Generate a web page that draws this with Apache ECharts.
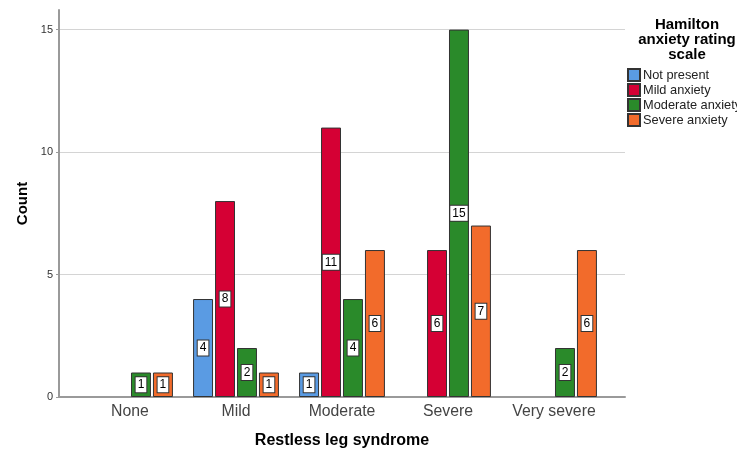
<!DOCTYPE html>
<html><head><meta charset="utf-8">
<script src="https://cdn.jsdelivr.net/npm/echarts@6/dist/echarts.min.js"></script>
<style>html,body{margin:0;padding:0;background:#fff}#c{width:737px;height:451px}</style>
</head><body><div id="c"></div>
<script>
const categories = ['None', 'Mild', 'Moderate', 'Severe', 'Very severe'];
const seriesNames = ['Not present', 'Mild anxiety', 'Moderate anxiety', 'Severe anxiety'];
const notPresent = [0, 4, 1, 0, 0];
const mildAnxiety = [0, 8, 11, 6, 0];
const moderateAnxiety = [1, 2, 4, 15, 2];
const severeAnxiety = [1, 1, 6, 7, 6];
const colors = ['#5a9be3', '#d50034', '#2a8a2a', '#f26b2b'];
const yTicks = [0, 5, 10, 15];

const font = 'Arial, "Liberation Sans", sans-serif';
const values = [notPresent, mildAnxiety, moderateAnxiety, severeAnxiety];
const chart = echarts.init(document.getElementById('c'));
chart.setOption({
  animation: false,
  textStyle: { fontFamily: font },
  title: {
    text: 'Hamilton\nanxiety rating\nscale',
    left: 682, top: 12, textAlign: 'center',
    textStyle: { fontSize: 15, fontWeight: 'bold', color: '#000', lineHeight: 15, fontFamily: font }
  },
  legend: {
    orient: 'vertical', left: 622, top: 63,
    itemWidth: 12, itemHeight: 12, itemGap: 1,
    icon: 'rect',
    textStyle: { fontSize: 12.8, lineHeight: 12, color: '#222', padding: [0, 0, 0, -2] , fontFamily: font},
    data: seriesNames
  },
  grid: [
    { left: 59, right: 112, top: 10, bottom: 54, outerBoundsMode: 'none', containLabel: false },
    { left: 77, right: 130, top: 10, bottom: 54, outerBoundsMode: 'none', containLabel: false }
  ],
  xAxis: [
    { gridIndex: 0, type: 'value', min: 0, max: 1, axisLabel: { show: false }, axisTick: { show: false }, splitLine: { show: false },
      axisLine: { show: true, lineStyle: { color: '#9a9a9a', width: 2 } },
      name: 'Restless leg syndrome', nameLocation: 'middle', nameGap: 36,
      nameTextStyle: { fontSize: 16, fontWeight: 'bold', color: '#000', fontFamily: font } },
    { gridIndex: 1, type: 'category', data: categories,
      axisLine: { show: false }, axisTick: { show: false },
      axisLabel: { interval: 0, hideOverlap: false, fontSize: 15.8, color: '#444', margin: 7, fontFamily: font } }
  ],
  yAxis: [
    { gridIndex: 0, type: 'value', min: 0, max: 15.8, interval: 5,
      axisLine: { show: true, lineStyle: { color: '#9a9a9a', width: 2 } },
      axisTick: { show: true, length: 3, lineStyle: { color: '#9a9a9a' } },
      axisLabel: { fontSize: 11, color: '#333', margin: 6, showMaxLabel: false, fontFamily: font,
        formatter: v => yTicks.includes(v) ? String(v) : '' },
      splitLine: { show: true, showMaxLine: false, lineStyle: { color: '#d4d4d4', width: 1 } },
      name: 'Count', nameLocation: 'middle', nameGap: 27,
      nameTextStyle: { fontSize: 15, fontWeight: 'bold', color: '#000', fontFamily: font } },
    { gridIndex: 1, type: 'value', min: 0, max: 15.8, show: false }
  ],
  series: seriesNames.map((name, i) => ({
    name, type: 'bar', xAxisIndex: 1, yAxisIndex: 1,
    data: values[i].map(v => v === 0 ? null : v),
    barCategoryGap: '19%', barGap: '10%',
    itemStyle: { color: colors[i], borderColor: '#333', borderWidth: 1 },
    label: {
      show: true, position: 'inside', fontSize: 12, color: '#000',
      backgroundColor: '#fff', borderColor: '#333', borderWidth: 1, padding: [2, 2, 1, 2], fontFamily: font
    }
  }))
});
</script></body></html>
